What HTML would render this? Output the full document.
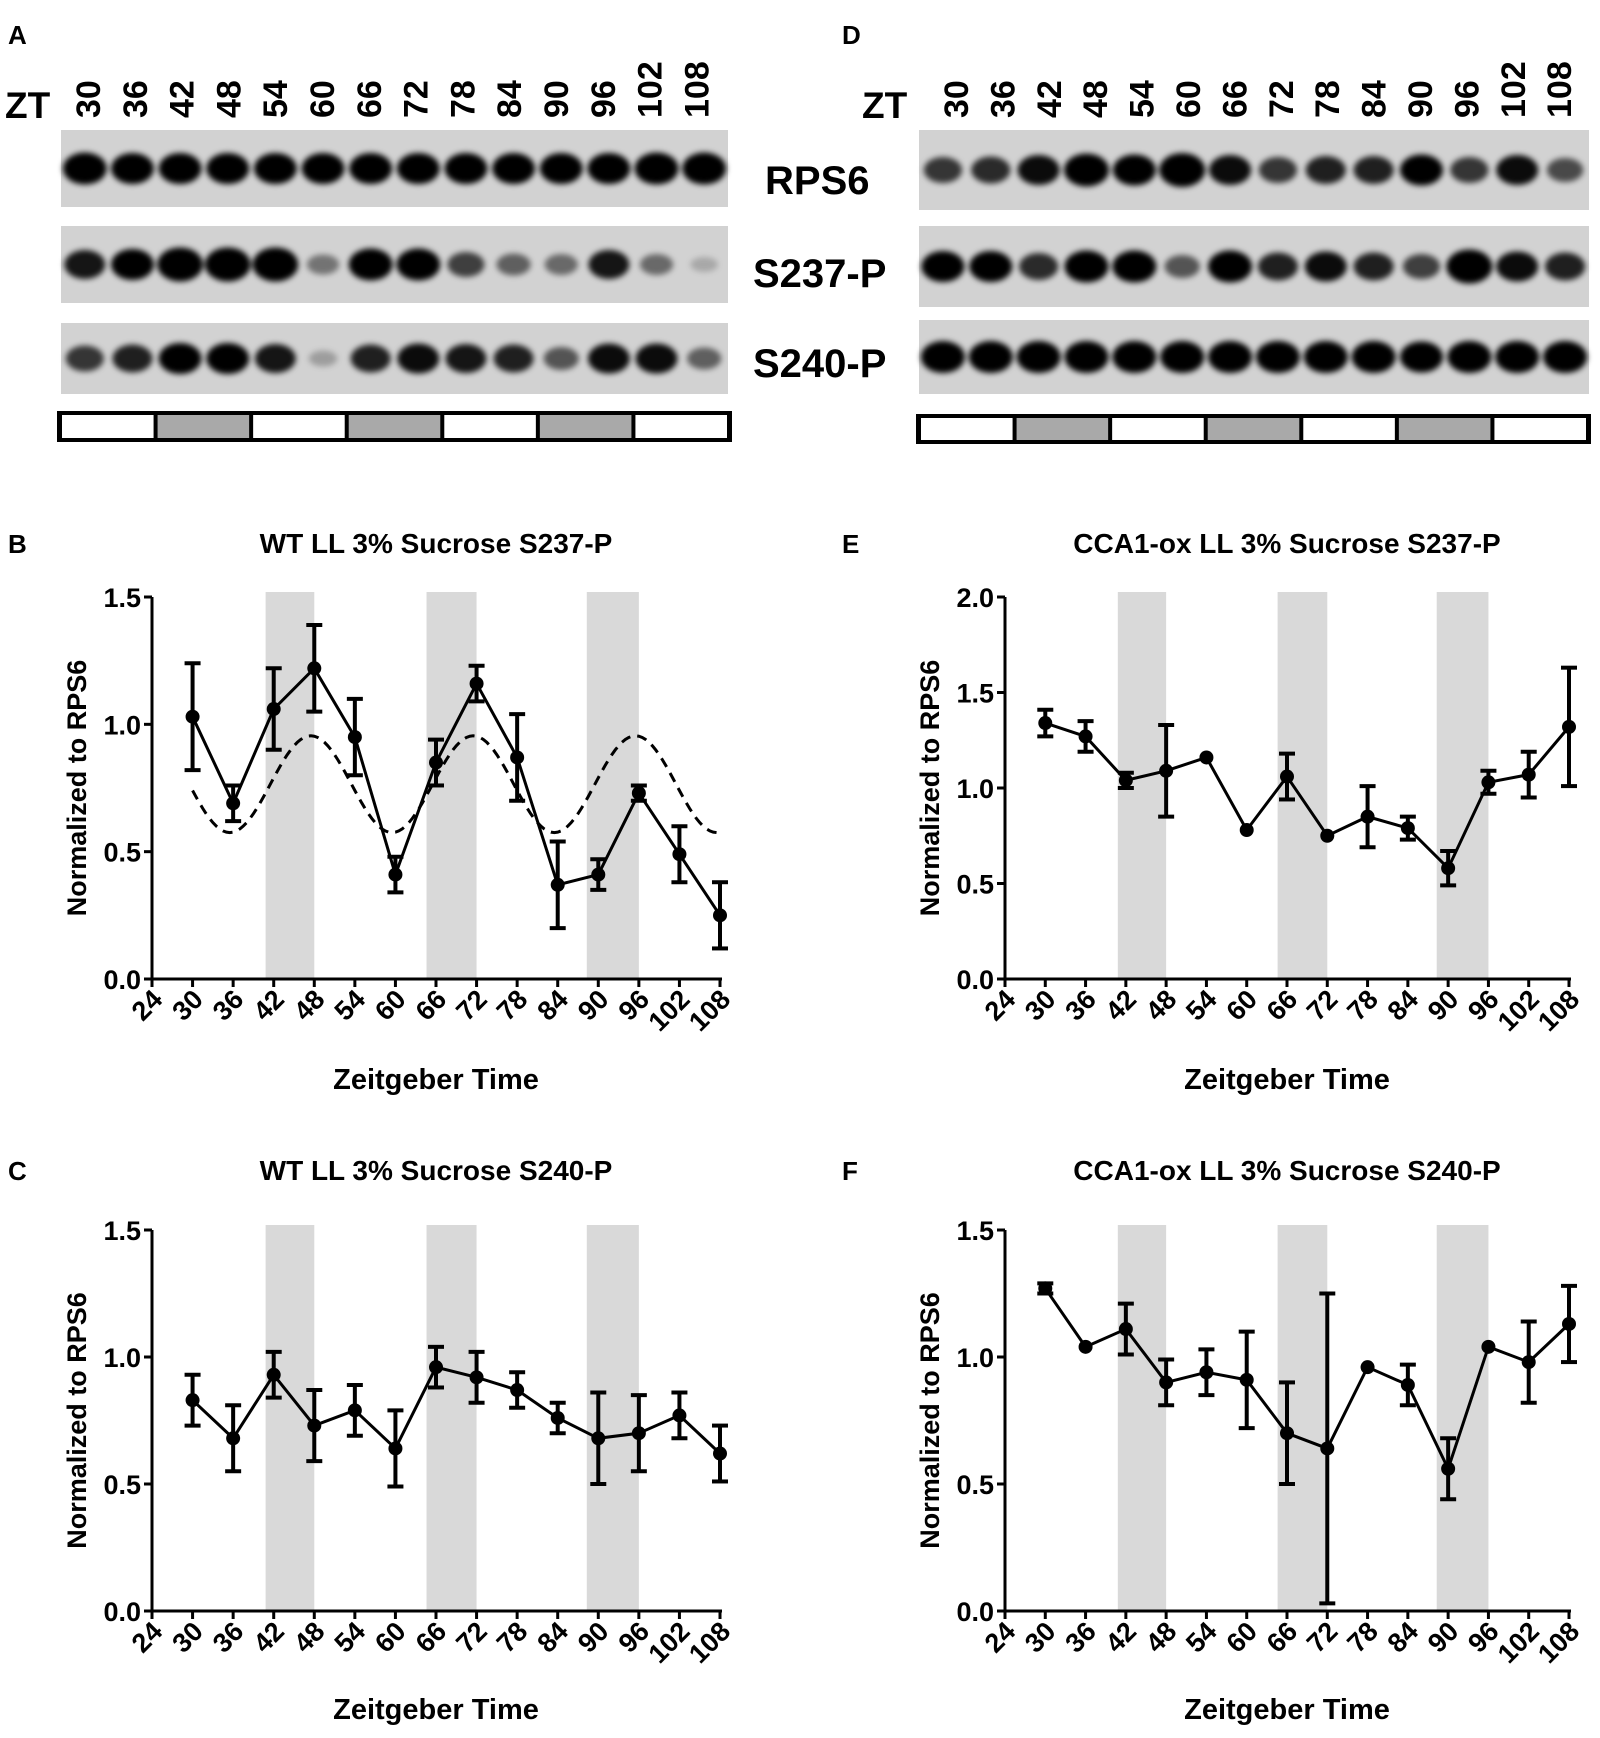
<!DOCTYPE html>
<html><head><meta charset="utf-8"><style>
body{margin:0;background:#fff;}
svg{display:block;font-family:"Liberation Sans",Arial,sans-serif;font-weight:bold;}
</style></head><body>
<svg id="fig" width="1600" height="1738" viewBox="0 0 1600 1738">
<defs><filter id="blur" x="-20%" y="-50%" width="140%" height="200%"><feGaussianBlur stdDeviation="3"/></filter></defs>
<text x="8" y="44" font-size="26">A</text>
<text x="842" y="44" font-size="26">D</text>
<text x="765" y="194" font-size="40">RPS6</text>
<text x="753" y="287" font-size="40">S237-P</text>
<text x="753" y="377" font-size="40">S240-P</text>
<text x="8" y="553" font-size="26">B</text>
<text x="842" y="553" font-size="26">E</text>
<text x="8" y="1180" font-size="26">C</text>
<text x="842" y="1180" font-size="26">F</text>
<g id="layer"></g>
</svg>
<script>
const NS='http://www.w3.org/2000/svg';
const layer=document.getElementById('layer');
function mk(tag,attrs,parent){const e=document.createElementNS(NS,tag);for(const k in attrs)e.setAttribute(k,attrs[k]);(parent||layer).appendChild(e);return e;}

// ---- blot data (band intensity 0..1, lane order ZT30..108) ----
const laneLabels=['30','36','42','48','54','60','66','72','78','84','90','96','102','108'];
const blotA_rps6=[0.9,0.85,0.85,0.85,0.85,0.85,0.85,0.85,0.85,0.85,0.85,0.85,0.9,0.9];
const blotA_s237=[0.75,0.85,1.0,1.0,1.0,0.3,0.9,0.9,0.55,0.4,0.35,0.75,0.35,0.05];
const blotA_s240=[0.6,0.7,0.85,0.85,0.75,0.1,0.7,0.8,0.75,0.7,0.45,0.8,0.8,0.4];
const blotD_rps6=[0.6,0.65,0.8,0.95,0.85,1.0,0.8,0.6,0.7,0.7,0.85,0.6,0.8,0.5];
const blotD_s237=[0.85,0.85,0.65,0.9,0.9,0.45,0.9,0.7,0.8,0.7,0.55,1.0,0.8,0.7];
const blotD_s240=[0.9,0.9,0.9,0.9,0.9,0.9,0.9,0.9,0.9,0.9,0.85,0.9,0.9,0.9];
const lightPattern=[0,1,0,1,0,1,0];

function blot(x0,x1,y0,y1,vals,name){
  const g=mk('g',{});
  
  
  mk('rect',{x:x0,y:y0,width:x1-x0,height:y1-y0,fill:'#d2d2d2'},g);
  const w=(x1-x0)/vals.length, cy=(y0+y1)/2;
  const fb=mk('g',{filter:'url(#blur)'},g);
  vals.forEach((v,i)=>{
    const b=mk('ellipse',{cx:x0+w*(i+0.5),cy:cy,rx:w*0.28+w*0.2*v,ry:7+10*v,fill:'#000','fill-opacity':Math.min(1,0.15+v)},fb);
    
    
  });
}
function lightBar(x0,x1,y0,y1,name){
  const g=mk('g',{});
  
  
  mk('rect',{x:x0,y:y0,width:x1-x0,height:y1-y0,fill:'#000'},g);
  const w=(x1-x0-6)/lightPattern.length;
  lightPattern.forEach((p,i)=>{mk('rect',{x:x0+3+i*w+2,y:y0+4,width:w-4,height:y1-y0-8,fill:p?'#a9a9a9':'#fff'},g);});
}
function ztLabels(zx,x0,step,name){
  const g=mk('g',{'font-size':34});
  
  
  const z=mk('text',{x:zx,y:118,'font-size':37},g);z.textContent='ZT';
  laneLabels.forEach((l,i)=>{const x=x0+i*step;const t=mk('text',{transform:`translate(${x+12},118) rotate(-90)`},g);t.textContent=l;});
}
ztLabels(5,88,46.8,'zt-labels-a');
blot(61,728,130,207,blotA_rps6,'blot-a-rps6');
blot(61,728,226,303,blotA_s237,'blot-a-s237p');
blot(61,728,323,394,blotA_s240,'blot-a-s240p');
lightBar(57,732,411,442,'light-bar-a');
ztLabels(862,956,46.4,'zt-labels-d');
blot(919,1589,130,210,blotD_rps6,'blot-d-rps6');
blot(919,1589,226,307,blotD_s237,'blot-d-s237p');
blot(919,1589,320,394,blotD_s240,'blot-d-s240p');
lightBar(916,1591,414,444,'light-bar-d');

// ---- chart data ----
const zt=[30,36,42,48,54,60,66,72,78,84,90,96,102,108];
const xTicks=[24,30,36,42,48,54,60,66,72,78,84,90,96,102,108];
const darkBands=[[40.8,48],[64.6,72],[88.3,96]];
const bMean=[1.03,0.69,1.06,1.22,0.95,0.41,0.85,1.16,0.87,0.37,0.41,0.73,0.49,0.25];
const bErr=[0.21,0.07,0.16,0.17,0.15,0.07,0.09,0.07,0.17,0.17,0.06,0.03,0.11,0.13];
// cosine fit parameters: mean, amplitude, period (h), peak time (h)
const bFitParams=[0.765,0.19,24,47.5];
const cMean=[0.83,0.68,0.93,0.73,0.79,0.64,0.96,0.92,0.87,0.76,0.68,0.70,0.77,0.62];
const cErr=[0.10,0.13,0.09,0.14,0.10,0.15,0.08,0.10,0.07,0.06,0.18,0.15,0.09,0.11];
const eMean=[1.34,1.27,1.04,1.09,1.16,0.78,1.06,0.75,0.85,0.79,0.58,1.03,1.07,1.32];
const eErr=[0.07,0.08,0.04,0.24,0,0,0.12,0,0.16,0.06,0.09,0.06,0.12,0.31];
const fMean=[1.27,1.04,1.11,0.90,0.94,0.91,0.70,0.64,0.96,0.89,0.56,1.04,0.98,1.13];
const fErr=[0.02,0,0.10,0.09,0.09,0.19,0.20,0.61,0,0.08,0.12,0,0.16,0.15];
const ticks15=[0,0.5,1.0,1.5];
const ticks20=[0,0.5,1.0,1.5,2.0];

function chart(c){
  const g=mk('g',{});
  
  
  const X=v=>c.x0+(v-24)/(108-24)*(c.x1-c.x0);
  const Y=v=>c.y0-(v/c.ymax)*(c.y0-c.y1);
  const title=mk('text',{x:(c.x0+c.x1)/2,y:c.ty,'font-size':28,'text-anchor':'middle'},g);
  title.textContent=c.title;
  
  darkBands.forEach(b=>{const r=mk('rect',{x:X(b[0]),y:c.y1-5,width:X(b[1])-X(b[0]),height:c.y0-c.y1+5,fill:'#d9d9d9'},g);
    });
  mk('line',{x1:c.x0,y1:c.y0,x2:c.x0,y2:c.y1,stroke:'#000','stroke-width':3},g);
  mk('line',{x1:c.x0,y1:c.y0,x2:c.x1+2,y2:c.y0,stroke:'#000','stroke-width':3},g);
  c.yticks.forEach(t=>{mk('line',{x1:c.x0-8,x2:c.x0,y1:Y(t),y2:Y(t),stroke:'#000','stroke-width':3},g);
    const tx=mk('text',{x:c.x0-11,y:Y(t)+10,'font-size':27,'text-anchor':'end'},g);tx.textContent=t.toFixed(1);
    });
  xTicks.forEach(t=>{mk('line',{x1:X(t),x2:X(t),y1:c.y0,y2:c.y0+8,stroke:'#000','stroke-width':3},g);
    const tx=mk('text',{transform:`translate(${X(t)+12},${c.y0+22}) rotate(-45)`,'font-size':27,'text-anchor':'end'},g);tx.textContent=t;
    });
  const yt=mk('text',{transform:`translate(${c.x0-66},${(c.y0+c.y1)/2}) rotate(-90)`,'font-size':27,'text-anchor':'middle'},g);
  yt.textContent='Normalized to RPS6';
  
  const xt=mk('text',{x:(c.x0+c.x1)/2,y:c.xty,'font-size':29,'text-anchor':'middle'},g);
  xt.textContent='Zeitgeber Time';
  
  if(c.fit){const [m,a,p,pk]=c.fit;const pts=[];
    for(let x=30;x<=108;x+=0.5)pts.push(X(x)+','+Y(m+a*Math.cos(2*Math.PI*(x-pk)/p)));
    const pl=mk('polyline',{points:pts.join(' '),fill:'none',stroke:'#000','stroke-width':3,'stroke-dasharray':'10,7'},g);
    }
  const ln=mk('polyline',{points:zt.map((x,i)=>X(x)+','+Y(c.mean[i])).join(' '),fill:'none',stroke:'#000','stroke-width':3},g);
  
  zt.forEach((x,i)=>{
    const m=c.mean[i],e=c.err[i];
    if(e>0){mk('line',{x1:X(x),x2:X(x),y1:Y(m-e),y2:Y(m+e),stroke:'#000','stroke-width':4},g);
      [m-e,m+e].forEach(v=>mk('line',{x1:X(x)-8,x2:X(x)+8,y1:Y(v),y2:Y(v),stroke:'#000','stroke-width':4},g));}
    const pt=mk('circle',{cx:X(x),cy:Y(m),r:7,fill:'#000'},g);
    
    
  });
}
chart({name:'chart-b',title:'WT LL 3% Sucrose S237-P',x0:152,x1:720,y0:979,y1:597,ymax:1.5,yticks:ticks15,ty:553,xty:1089,mean:bMean,err:bErr,fit:bFitParams});
chart({name:'chart-c',title:'WT LL 3% Sucrose S240-P',x0:152,x1:720,y0:1611,y1:1230,ymax:1.5,yticks:ticks15,ty:1180,xty:1719,mean:cMean,err:cErr});
chart({name:'chart-e',title:'CCA1-ox LL 3% Sucrose S237-P',x0:1005,x1:1569,y0:979,y1:597,ymax:2.0,yticks:ticks20,ty:553,xty:1089,mean:eMean,err:eErr});
chart({name:'chart-f',title:'CCA1-ox LL 3% Sucrose S240-P',x0:1005,x1:1569,y0:1611,y1:1230,ymax:1.5,yticks:ticks15,ty:1180,xty:1719,mean:fMean,err:fErr});
</script>
</body></html>
